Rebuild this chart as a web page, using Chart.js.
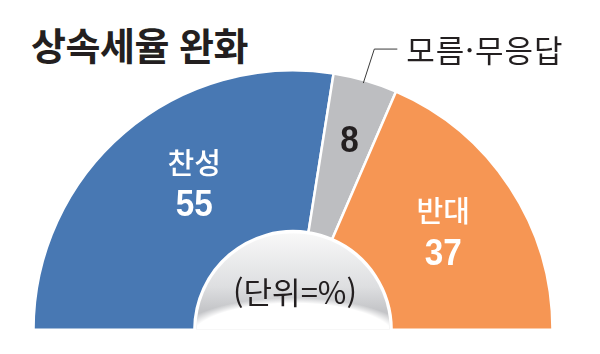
<!DOCTYPE html>
<html lang="ko">
<head>
<meta charset="utf-8">
<title>상속세율 완화</title>
<script src="https://cdn.jsdelivr.net/npm/chart.js@4.4.1/dist/chart.umd.min.js"></script>
<style>
  html, body { margin: 0; padding: 0; background: #fff; }
  #wrap { position: relative; width: 600px; height: 354px; overflow: hidden; }
  #title {
    position: absolute; left: 31px; top: 21px; margin: 0;
    font: 700 38px "Noto Sans CJK KR", sans-serif; letter-spacing: -0.5px;
    color: #231f20; line-height: 46px; white-space: nowrap;
  }
  canvas { position: absolute; left: 0; top: 0; }
</style>
</head>
<body>
<div id="wrap">
  <h1 id="title">상속세율 완화</h1>
  <canvas id="chart" width="600" height="354"></canvas>
</div>
<script>
// Data
const categories = ['찬성', '모름·무응답', '반대'];
const values = [55, 8, 37];
const unitLabel = '(단위=%)';

// Styling
const colors = ['#4878b3', '#bdbec1', '#f69654'];
const KR = '"Noto Sans CJK KR", sans-serif';
const NUM = '"Liberation Sans", Arial, sans-serif';

// Where each label sits inside its slice: fraction of the slice's sweep, fraction of outer radius
const labelPlace = [
  { frac: 0.565, r: 0.68, inside: true,  color: '#fff' },
  { frac: 0.53,  r: 0.76, inside: false, color: '#231f20' },
  { frac: 0.505, r: 0.69, inside: true,  color: '#fff' }
];

// Condensed bold numbers: the reference uses a narrow face, so squeeze horizontally
function drawNumber(ctx, text, x, y) {
  ctx.save();
  ctx.translate(x, y);
  ctx.scale(0.9, 1);
  ctx.font = '700 37px ' + NUM;
  ctx.fillText(text, 0, 0);
  ctx.restore();
}

/**
 * Draws the category name + value inside each slice.
 * The grey slice shows only its value; its name goes on a leader line.
 */
const sliceLabels = {
  id: 'sliceLabels',
  afterDatasetsDraw(chart) {
    const ctx = chart.ctx;
    const meta = chart.getDatasetMeta(0);
    meta.data.forEach((arc, i) => {
      const { x, y, startAngle, endAngle, outerRadius } = arc.getProps(['x', 'y', 'startAngle', 'endAngle', 'outerRadius'], true);
      const p = labelPlace[i];
      const a = startAngle + (endAngle - startAngle) * p.frac;
      const cx = x + Math.cos(a) * outerRadius * p.r;
      const cy = y + Math.sin(a) * outerRadius * p.r;
      ctx.save();
      ctx.fillStyle = p.color;
      ctx.textAlign = 'center';
      ctx.textBaseline = 'middle';
      if (p.inside) {
        ctx.font = '500 29px ' + KR;
        ctx.fillText(categories[i], cx, cy - 21);
        drawNumber(ctx, String(values[i]), cx, cy + 22);
      } else {
        drawNumber(ctx, String(values[i]), cx, cy + 1);
        // leader line to the name above the chart
        const sa = startAngle + (endAngle - startAngle) * 0.48;
        const sx = x + Math.cos(sa) * (outerRadius - 3);
        const sy = y + Math.sin(sa) * (outerRadius - 3);
        ctx.strokeStyle = '#3a3a3a';
        ctx.lineWidth = 1;
        ctx.beginPath();
        ctx.moveTo(sx, sy);
        ctx.lineTo(sx + 11, sy - 34);
        ctx.lineTo(sx + 34, sy - 34);
        ctx.stroke();
        ctx.fillStyle = '#231f20';
        ctx.textAlign = 'left';
        ctx.font = '400 31px ' + KR;
        ctx.letterSpacing = '1px';
        ctx.fillText(categories[i], sx + 43, sy - 33);
      }
      ctx.restore();
    });
  }
};

/**
 * Fills the doughnut hole with a grey dome and writes the unit in it.
 */
const centerDome = {
  id: 'centerDome',
  afterDatasetsDraw(chart) {
    const ctx = chart.ctx;
    const arc = chart.getDatasetMeta(0).data[0];
    const { x, y, innerRadius } = arc.getProps(['x', 'y', 'innerRadius'], true);
    const r = innerRadius - 2;
    ctx.save();
    ctx.beginPath();
    ctx.arc(x, y, r, Math.PI, 2 * Math.PI);
    ctx.closePath();
    ctx.clip();
    const g = ctx.createLinearGradient(0, y - r, 0, y);
    g.addColorStop(0, '#f8f8f8');
    g.addColorStop(0.55, '#dedfe1');
    g.addColorStop(0.8, '#c4c5c8');
    g.addColorStop(1, '#c4c5c8');
    ctx.fillStyle = g;
    ctx.fillRect(x - r, y - r, 2 * r, r);
    // white glow at the bottom
    ctx.translate(x, y + 8);
    ctx.scale(1, 0.34);
    const rg = ctx.createRadialGradient(0, 0, 0, 0, 0, 118);
    rg.addColorStop(0, '#ffffff');
    rg.addColorStop(0.86, '#ffffff');
    rg.addColorStop(1, 'rgba(255,255,255,0)');
    ctx.fillStyle = rg;
    ctx.beginPath();
    ctx.arc(0, 0, 118, 0, 2 * Math.PI);
    ctx.fill();
    ctx.restore();

    ctx.save();
    ctx.fillStyle = '#231f20';
    ctx.font = '400 31px ' + KR;
    ctx.textAlign = 'center';
    ctx.textBaseline = 'middle';
    ctx.fillText(unitLabel, x + 2, y - 38);
    ctx.restore();
  }
};

new Chart(document.getElementById('chart'), {
  type: 'doughnut',
  data: {
    labels: categories,
    datasets: [{
      data: values,
      backgroundColor: colors,
      borderColor: '#ffffff',
      borderWidth: 2.5,
      hoverOffset: 0
    }]
  },
  options: {
    responsive: false,
    animation: false,
    rotation: -90,
    circumference: 180,
    cutout: '38%',
    layout: { padding: { left: 31, top: 69, right: 45, bottom: 23 } },
    plugins: {
      legend: { display: false },
      tooltip: { enabled: false }
    }
  },
  plugins: [centerDome, sliceLabels]
});
</script>
</body>
</html>
